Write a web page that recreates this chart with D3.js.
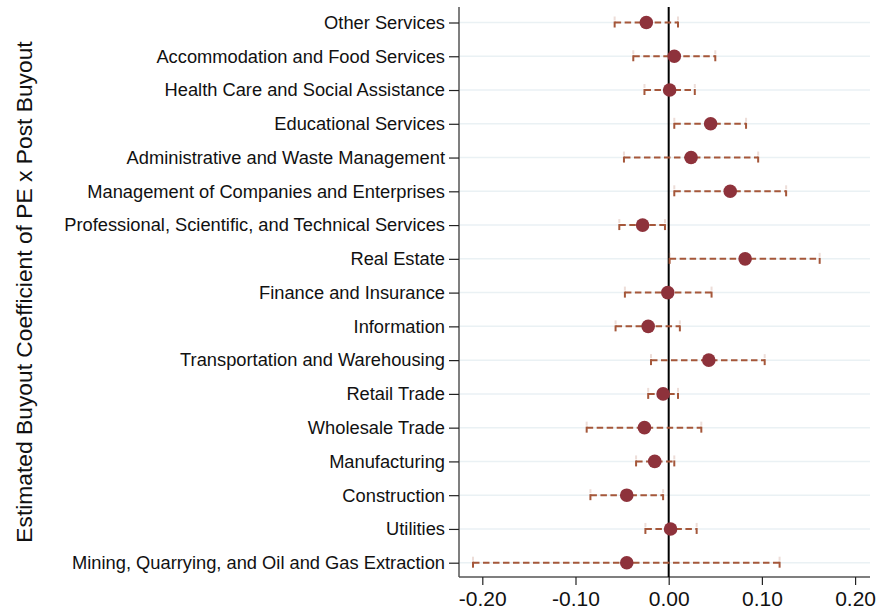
<!DOCTYPE html>
<html>
<head>
<meta charset="utf-8">
<script src="https://cdn.jsdelivr.net/npm/d3@7"></script>
<style>
  body { margin: 0; background: #fff; }
</style>
</head>
<body>
<script>
const industries = [
    "Other Services",
    "Accommodation and Food Services",
    "Health Care and Social Assistance",
    "Educational Services",
    "Administrative and Waste Management",
    "Management of Companies and Enterprises",
    "Professional, Scientific, and Technical Services",
    "Real Estate",
    "Finance and Insurance",
    "Information",
    "Transportation and Warehousing",
    "Retail Trade",
    "Wholesale Trade",
    "Manufacturing",
    "Construction",
    "Utilities",
    "Mining, Quarrying, and Oil and Gas Extraction"
];
const coef  = [-0.024, 0.006, 0.001, 0.045, 0.024, 0.066, -0.028, 0.082, -0.001, -0.022, 0.043, -0.006, -0.026, -0.015, -0.045, 0.002, -0.045];
const lower = [-0.058, -0.038, -0.026, 0.006, -0.048, 0.006, -0.053, 0.001, -0.047, -0.057, -0.019, -0.022, -0.088, -0.035, -0.084, -0.025, -0.210];
const upper = [0.010, 0.050, 0.028, 0.083, 0.096, 0.126, -0.004, 0.162, 0.046, 0.012, 0.103, 0.010, 0.035, 0.006, -0.006, 0.030, 0.119];
const xTicks = [-0.2, -0.1, 0.0, 0.1, 0.2];

function main(){
    const canvasWidth = 881;
    const canvasHeight = 614;
    const font = "'Liberation Sans', Arial, Helvetica, sans-serif";

    const svg = d3.select("body").append("svg")
        .attr("width", canvasWidth)
        .attr("height", canvasHeight)
        .style("font-family", font);

    const left = 459, right = 870, top = 7, bottom = 577;

    const xScale = d3.scaleLinear().domain([-0.225, 0.216]).range([left, right]);
    // first and last row centres
    const yScale = d3.scalePoint().domain(industries).range([22.5, 562.7]);

    const rows = industries.map((name, i) => ({name: name, coef: coef[i], lo: lower[i], hi: upper[i]}));

    // light horizontal grid lines
    svg.append("g").selectAll("line")
        .data(industries)
        .enter()
        .append("line")
        .attr("x1", left + 1)
        .attr("x2", right)
        .attr("y1", d => yScale(d))
        .attr("y2", d => yScale(d))
        .attr("stroke", "#eaf1f4")
        .attr("stroke-width", 1.5);

    // y axis
    const yAxis = svg.append("g")
        .attr("transform", "translate(" + left + ",0)")
        .call(d3.axisLeft(yScale).tickSize(10).tickPadding(4));
    yAxis.select(".domain").attr("d", "M0," + top + "V" + bottom).attr("stroke", "#555").attr("stroke-width", 1.5);
    yAxis.selectAll(".tick line").attr("stroke", "#222").attr("stroke-width", 1.2);
    yAxis.selectAll(".tick text")
        .attr("font-size", "18.3px")
        .attr("font-family", font)
        .attr("fill", "#111");

    // x axis
    const xAxis = svg.append("g")
        .attr("transform", "translate(0," + bottom + ")")
        .call(d3.axisBottom(xScale).tickValues(xTicks).tickFormat(d3.format(".2f")).tickSize(8).tickPadding(6));
    xAxis.select(".domain").attr("d", "M" + left + ",0H" + right).attr("stroke", "#555").attr("stroke-width", 1.5);
    xAxis.selectAll(".tick line").attr("stroke", "#222").attr("stroke-width", 1.2);
    xAxis.selectAll(".tick text")
        .attr("font-size", "21px")
        .attr("font-family", font)
        .attr("fill", "#111")
        .text(d => d3.format(".2f")(d).replace("−", "-"));

    // zero reference line
    svg.append("line")
        .attr("x1", xScale(0))
        .attr("x2", xScale(0))
        .attr("y1", top)
        .attr("y2", bottom)
        .attr("stroke", "#000")
        .attr("stroke-width", 2);

    const barColor = "#a5573a";
    const bars = svg.append("g");

    bars.selectAll(".ci")
        .data(rows)
        .enter()
        .append("line")
        .attr("class", "ci")
        .attr("x1", d => xScale(d.lo))
        .attr("x2", d => xScale(d.hi))
        .attr("y1", d => yScale(d.name))
        .attr("y2", d => yScale(d.name))
        .attr("stroke", barColor)
        .attr("stroke-width", 2)
        .attr("stroke-dasharray", "6.5,3.5");

    // caps: solid lower half, faint upper half
    ["lo", "hi"].forEach(k => {
        bars.selectAll(".cap-" + k)
            .data(rows)
            .enter()
            .append("line")
            .attr("class", "cap-" + k)
            .attr("x1", d => xScale(d[k]))
            .attr("x2", d => xScale(d[k]))
            .attr("y1", d => yScale(d.name) - 1)
            .attr("y2", d => yScale(d.name) + 5)
            .attr("stroke", barColor)
            .attr("stroke-width", 2);
        bars.selectAll(".capf-" + k)
            .data(rows)
            .enter()
            .append("line")
            .attr("class", "capf-" + k)
            .attr("x1", d => xScale(d[k]))
            .attr("x2", d => xScale(d[k]))
            .attr("y1", d => yScale(d.name) - 6)
            .attr("y2", d => yScale(d.name) - 2)
            .attr("stroke", barColor)
            .attr("stroke-opacity", 0.2)
            .attr("stroke-width", 2);
    });

    svg.append("g").selectAll("circle")
        .data(rows)
        .enter()
        .append("circle")
        .attr("cx", d => xScale(d.coef))
        .attr("cy", d => yScale(d.name))
        .attr("r", 6.8)
        .attr("fill", "#8e323b");

    svg.append("text")
        .attr("transform", "translate(32," + ((top + bottom) / 2) + ") rotate(-90)")
        .attr("text-anchor", "middle")
        .attr("font-size", "22.8px")
        .attr("fill", "#111")
        .text("Estimated Buyout Coefficient of PE x Post Buyout");
}
main();
</script>
</body>
</html>
